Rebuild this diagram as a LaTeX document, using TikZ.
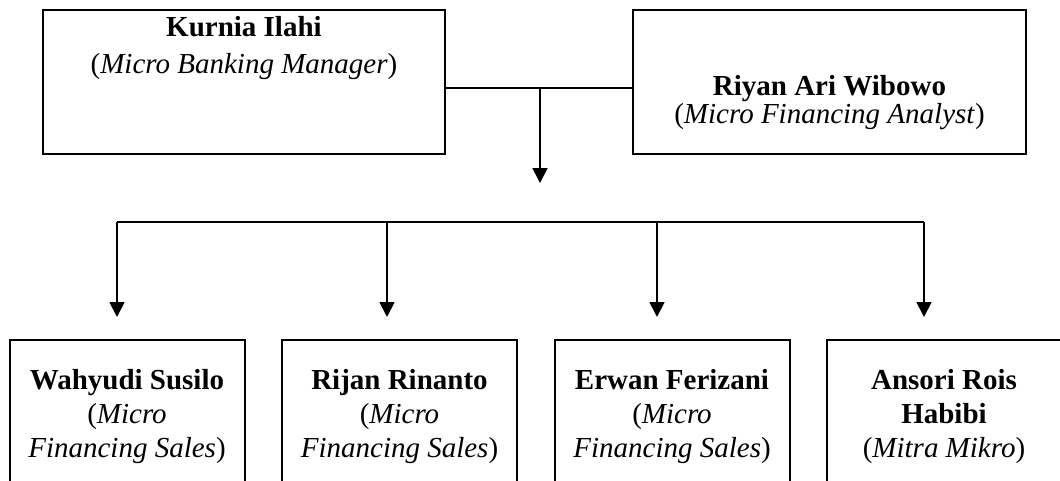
\documentclass[tikz,border=0pt]{standalone}
\usepackage{fontspec}
\setmainfont{Liberation Serif}
\usetikzlibrary{arrows.meta,positioning,calc}

\begin{document}
\begin{tikzpicture}[
		x=0.5pt, y=-0.5pt,
		>={Triangle[width=7.5pt,length=7.5pt]},
		headbox/.style={
			draw,
			line width=1pt,
			rectangle,
			align=center,
			inner sep=0pt,
			minimum height=72pt
		},
		staffbox/.style={
			draw,
			line width=1pt,
			rectangle,
			align=center,
			inner sep=0pt,
			minimum width=117.5pt,
			text height=58.5pt,
			text depth=26.5pt,
			font=\fontsize{14.5pt}{17pt}\selectfont
		},
		link/.style={
			line width=0.9pt
		}
		]
		\useasboundingbox (0,0) rectangle (1060,481);
		\clip (0,0) rectangle (1060,481);

		% top row
		\node[headbox,minimum width=201pt,text height=32pt,text depth=40pt,
			font=\fontsize{14.5pt}{18.5pt}\selectfont] (MGR) at (244,82)
			{\textbf{Kurnia Ilahi}\\(\textit{Micro Banking Manager})};
		\node[headbox,minimum width=196.5pt,text height=57pt,text depth=15pt,
			font=\fontsize{14.5pt}{13pt}\selectfont] (MFA) at (829.5,82)
			{\textbf{Riyan Ari Wibowo}\\(\textit{Micro Financing Analyst})};

		% bottom row
		\node[staffbox] (WS) at (127,425)
			{\textbf{Wahyudi Susilo}\\(\textit{Micro}\\\textit{Financing Sales})};
		\node[staffbox] (RR) at (399.5,425)
			{\textbf{Rijan Rinanto}\\(\textit{Micro}\\\textit{Financing Sales})};
		\node[staffbox] (EF) at (672,425)
			{\textbf{Erwan Ferizani}\\(\textit{Micro}\\\textit{Financing Sales})};
		\node[staffbox] (AR) at (944,425)
			{\textbf{Ansori Rois}\\\textbf{Habibi}\\(\textit{Mitra Mikro})};

		\coordinate (JOIN) at (540,88);
		\coordinate (DROP) at (540,183);
		\draw[link] (JOIN -| MGR.east) -- (JOIN -| MFA.west);
		\draw[link,->] (JOIN) -- (DROP);

		\coordinate (T1) at (117,222);
		\coordinate (T2) at (387,222);
		\coordinate (T3) at (657,222);
		\coordinate (T4) at (924,222);
		\draw[link] (T1) -- (T4);
		\draw[link,->,shorten >=11pt] (T1) -- (T1 |- WS.north);
		\draw[link,->,shorten >=11pt] (T2) -- (T2 |- RR.north);
		\draw[link,->,shorten >=11pt] (T3) -- (T3 |- EF.north);
		\draw[link,->,shorten >=11pt] (T4) -- (T4 |- AR.north);
\end{tikzpicture}
\end{document}
